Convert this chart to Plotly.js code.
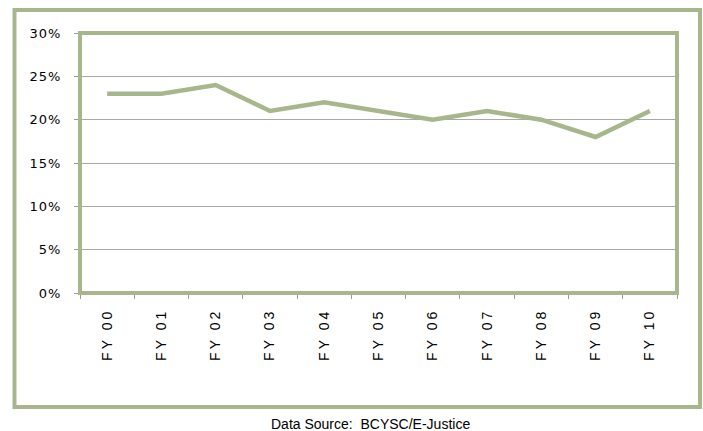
<!DOCTYPE html>
<html>
<head>
<meta charset="utf-8">
<script src="https://cdn.plot.ly/plotly-3.0.1.min.js"></script>
<style>
html,body{margin:0;padding:0;background:#fff;}
#chart{width:703px;height:431px;}
.xtick text{letter-spacing:3px;}
.ytick text{letter-spacing:1px;}
</style>
</head>
<body>
<div id="chart"></div>
<script>
const categories = ["FY 00","FY 01","FY 02","FY 03","FY 04","FY 05","FY 06","FY 07","FY 08","FY 09","FY 10"];
const values = [23, 23, 24, 21, 22, 21, 20, 21, 20, 18, 21];
const yTickVals = [0, 5, 10, 15, 20, 25, 30];
const caption = "Data Source:  BCYSC/E-Justice";

const W = 703, H = 431;
const L = 80, R = 677, T = 33, B = 293;
const px = x => (x - L) / (R - L);
const py = y => (B - y) / (B - T);
const green = "#a7b68b";

const trace = {
  x: categories,
  y: values,
  type: "scatter",
  mode: "lines",
  line: {color: green, width: 4.5},
  hoverinfo: "skip"
};

const layout = {
  width: W, height: H,
  margin: {l: L, r: W - R, t: T, b: H - B},
  paper_bgcolor: "#fff",
  plot_bgcolor: "#fff",
  showlegend: false,
  xaxis: {
    type: "category",
    range: [-0.5, categories.length - 0.5],
    tickson: "boundaries",
    ticks: "outside",
    ticklen: 5,
    tickcolor: "#9a9a9a",
    tickwidth: 1,
    tickangle: -90,
    showgrid: false,
    zeroline: false,
    showline: false,
    tickfont: {family: "Liberation Sans, Arial, sans-serif", size: 14, color: "#000"},
    ticklabelstandoff: 12
  },
  yaxis: {
    range: [0, 30],
    tickvals: yTickVals,
    ticktext: yTickVals.map(v => v + "%"),
    ticks: "outside",
    ticklen: 5,
    tickcolor: "#9a9a9a",
    tickwidth: 1,
    showgrid: true,
    gridcolor: "#a8a8a8",
    gridwidth: 1,
    zeroline: false,
    showline: false,
    tickfont: {family: "DejaVu Sans, Verdana, sans-serif", size: 13, color: "#000"},
    ticklabelstandoff: 10
  },
  shapes: [
    {type: "rect", xref: "paper", yref: "paper", layer: "above",
     x0: px(L), x1: px(R), y0: py(B), y1: py(T),
     line: {color: green, width: 4}},
    {type: "rect", xref: "paper", yref: "paper", layer: "below",
     x0: px(14.5), x1: px(700), y0: py(407), y1: py(10),
     line: {color: green, width: 4}}
  ],
  annotations: [
    {xref: "paper", yref: "paper", x: px(370), y: py(424), xanchor: "center", yanchor: "middle",
     text: caption, showarrow: false,
     font: {family: "Liberation Sans, Arial, sans-serif", size: 14, color: "#000"}}
  ]
};

Plotly.newPlot("chart", [trace], layout, {displayModeBar: false, staticPlot: true});
</script>
</body>
</html>
